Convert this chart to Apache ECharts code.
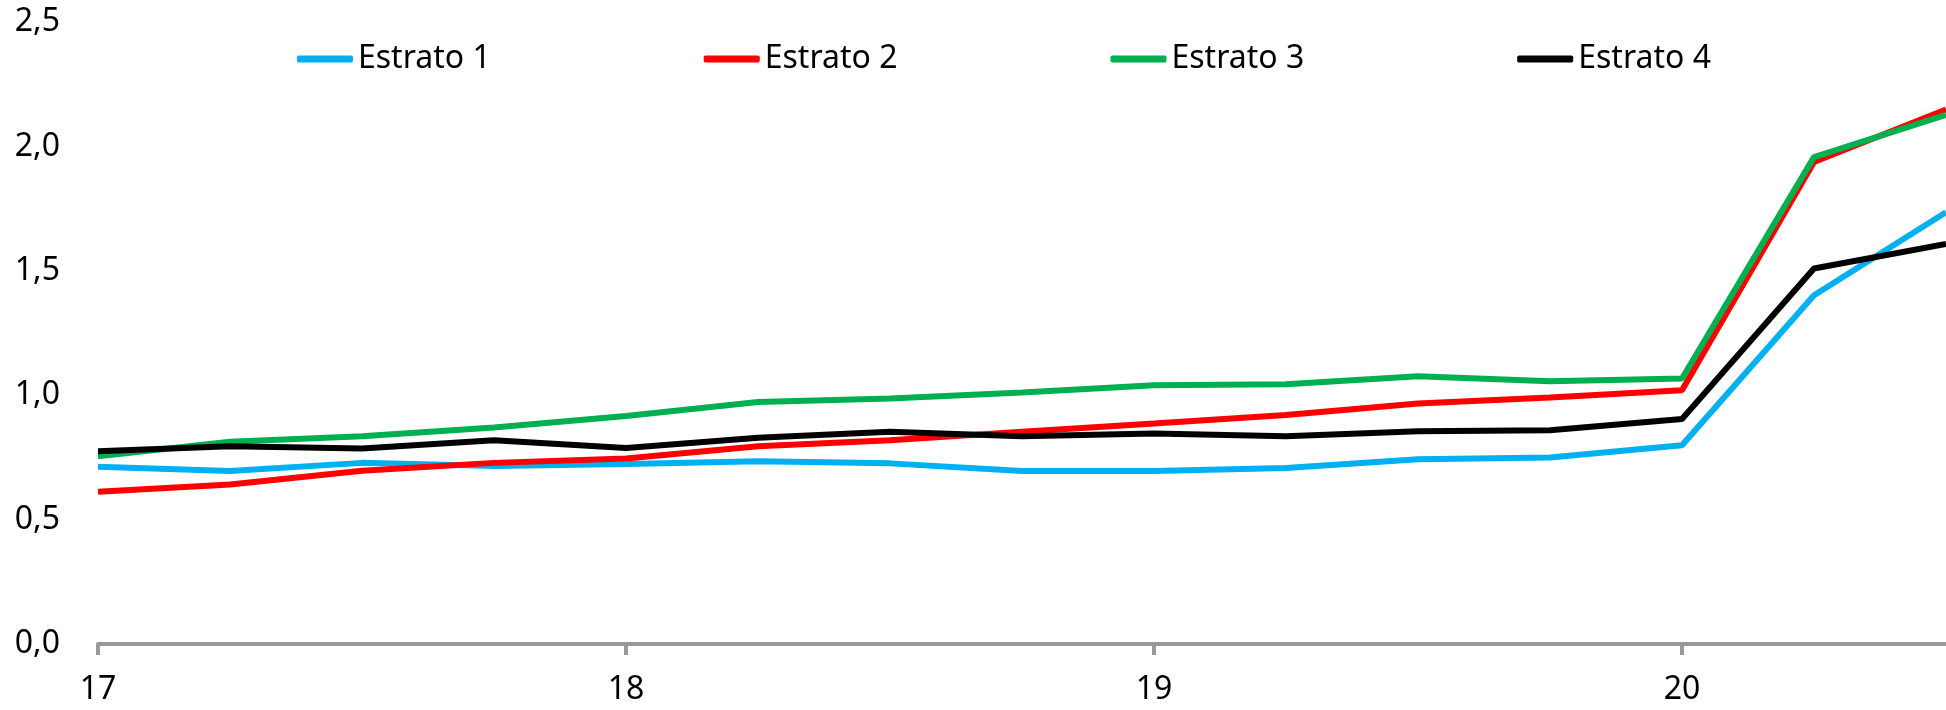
<!DOCTYPE html>
<html>
<head>
    <meta charset="utf-8">
    <title>Estratos</title>
    <script type="text/javascript" src="https://cdn.jsdelivr.net/npm/echarts@6/dist/echarts.min.js"></script>
    <style>
        html, body { margin: 0; padding: 0; background: #fff; }
    </style>
</head>
<body>
    <div id="main" style="width: 1946px;height:710px;"></div>

    <script type="text/javascript">
        // trimestres (17 = 2017 ...)
        var periodos = [17, 17.25, 17.5, 17.75, 18, 18.25, 18.5, 18.75, 19, 19.25, 19.5, 19.75, 20, 20.25, 20.5];
        var anos = [17, 18, 19, 20];
        var ticksY = [0, 0.5, 1, 1.5, 2, 2.5];

        var estrato1 = [0.712, 0.695, 0.728, 0.715, 0.723, 0.735, 0.726, 0.695, 0.695, 0.707, 0.743, 0.750, 0.799, 1.402, 1.735];
        var estrato2 = [0.612, 0.641, 0.696, 0.728, 0.746, 0.795, 0.819, 0.853, 0.886, 0.920, 0.967, 0.991, 1.020, 1.937, 2.148];
        var estrato3 = [0.755, 0.813, 0.835, 0.870, 0.916, 0.973, 0.987, 1.011, 1.040, 1.044, 1.076, 1.056, 1.067, 1.957, 2.127];
        var estrato4 = [0.775, 0.795, 0.786, 0.819, 0.788, 0.829, 0.853, 0.835, 0.846, 0.835, 0.855, 0.859, 0.904, 1.509, 1.608];

        var nomes = ['Estrato 1', 'Estrato 2', 'Estrato 3', 'Estrato 4'];
        var cores = ['#00B0F0', '#FF0000', '#00B050', '#000000'];
        var dados = [estrato1, estrato2, estrato3, estrato4];

        function pares(valores) {
            var out = [];
            for (var i = 0; i < periodos.length; i++) {
                out.push([periodos[i], valores[i]]);
            }
            return out;
        }

        var series = [];
        for (var k = 0; k < nomes.length; k++) {
            series.push({
                name: nomes[k],
                type: 'line',
                data: pares(dados[k]),
                symbol: 'none',
                animation: false,
                lineStyle: { color: cores[k], width: 6 },
                itemStyle: { color: cores[k] }
            });
        }

        var fonte = '"Noto Sans", sans-serif';
        var myChart = echarts.init(document.getElementById('main'));

        myChart.setOption({
            backgroundColor: '#ffffff',
            animation: false,
            grid: { left: 98, right: 0, top: 22, bottom: 66, containLabel: false },
            legend: {
                data: nomes,
                left: 292,
                top: 38,
                icon: 'roundRect',
                itemWidth: 56,
                itemHeight: 7,
                itemGap: 213,
                textStyle: { fontFamily: fonte, fontSize: 32, color: '#000' }
            },
            xAxis: {
                type: 'value',
                min: 17,
                max: 20.5,
                interval: 1,
                splitLine: { show: false },
                axisLine: { show: true, lineStyle: { color: '#999999', width: 4 } },
                axisTick: {
                    show: true,
                    customValues: anos,
                    length: 11,
                    lineStyle: { color: '#999999', width: 4 }
                },
                axisLabel: {
                    customValues: anos,
                    margin: 30,
                    fontFamily: fonte,
                    fontSize: 32,
                    color: '#000'
                }
            },
            yAxis: {
                type: 'value',
                min: 0,
                max: 2.5,
                interval: 0.5,
                splitLine: { show: false },
                axisLine: { show: false },
                axisTick: { show: false },
                axisLabel: {
                    margin: 38,
                    fontFamily: fonte,
                    fontSize: 32,
                    color: '#000',
                    formatter: function (v) { return v.toFixed(1).replace('.', ','); }
                }
            },
            series: series
        });
    </script>
</body>
</html>
